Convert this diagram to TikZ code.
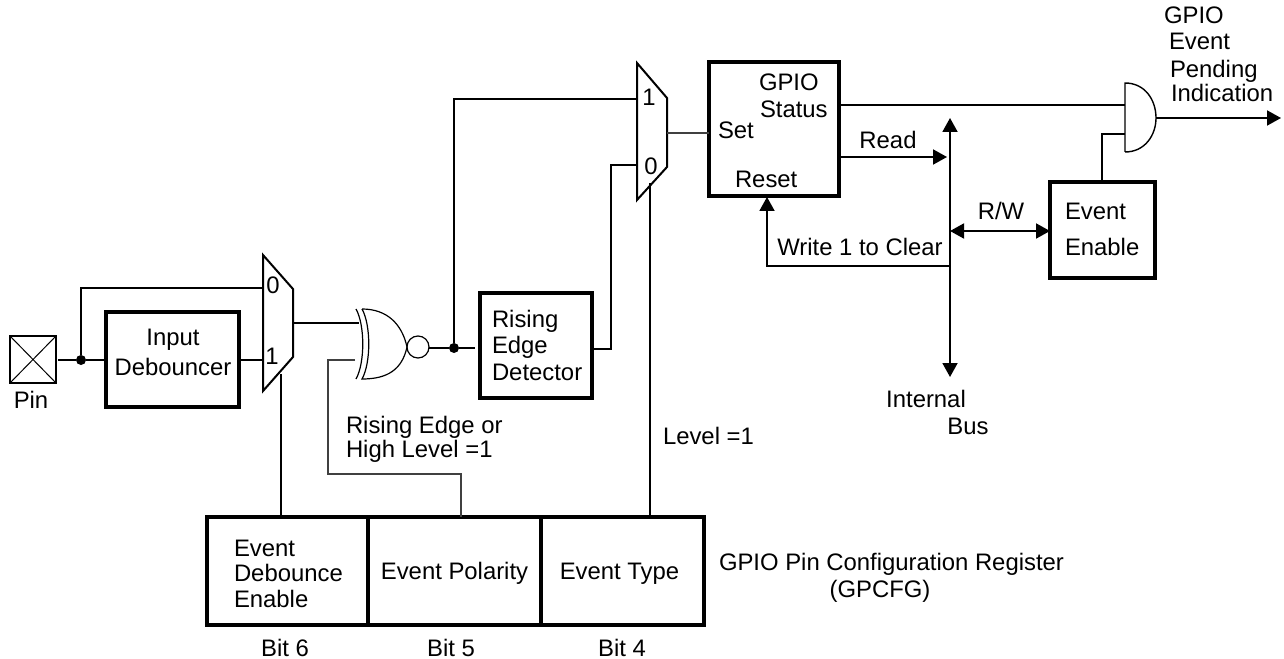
\documentclass[tikz,border=0pt]{standalone}
\usepackage{fontspec}
\setmainfont{Liberation Sans}
\usetikzlibrary{arrows.meta}
\newcommand{\lbl}{\fontsize{17.9pt}{24pt}\selectfont}
\tikzset{
  wire/.style={line width=1.9pt*0.75},
  thinwire/.style={line width=1.5pt*0.75,black!75},
  box/.style={draw,line width=3.4pt*0.75,inner sep=0,outer sep=0,align=center,font=\lbl},
  muxshape/.style={line width=2pt*0.75,line join=miter},
  lab/.style={inner sep=0,outer sep=0,anchor=base west,font=\lbl},
  labc/.style={inner sep=0,outer sep=0,anchor=base,font=\lbl},
  dot/.style={circle,fill=black,inner sep=0,minimum size=10pt*0.75},
  arr/.style={-{Triangle[length=14pt*0.75,width=15pt*0.75]}},
  darr/.style={{Triangle[length=14pt*0.75,width=15pt*0.75]}-{Triangle[length=14pt*0.75,width=15pt*0.75]}},
}
\begin{document}
\begin{tikzpicture}[x=0.75pt,y=-0.75pt]
\useasboundingbox (0,0) rectangle (1284,659);
% pin
\node[draw,line width=1.7pt*0.75,minimum width=46*0.75pt,minimum height=47*0.75pt,inner sep=0,outer sep=0] (pin) at (33,359.5) {};
\draw[line width=1pt*0.75] (pin.north west) -- (pin.south east) (pin.north east) -- (pin.south west);
\node[labc] (pinlab) at (31,408) {Pin};
% boxes
\node[box,minimum width=133*0.75pt,minimum height=95*0.75pt] (deb) at (172.5,359.5) {};
\node[labc] (debl1) at (173,345) {Input};
\node[labc] (debl2) at (173,375) {Debouncer};
\node[box,minimum width=112*0.75pt,minimum height=105*0.75pt] (edge) at (536,345.5) {};
\node[lab] (edl1) at (492,327) {Rising};
\node[lab] (edl2) at (492,353) {Edge};
\node[lab] (edl3) at (492,380) {Detector};
\node[box,minimum width=130*0.75pt,minimum height=134*0.75pt] (status) at (774,129) {};
\node[lab] (st1) at (759,91) {GPIO};
\node[lab] (st2) at (760,118) {Status};
\node[lab] (st3) at (718,139) {Set};
\node[lab] (st4) at (735,188) {Reset};
\node[box,minimum width=105*0.75pt,minimum height=96*0.75pt] (enable) at (1102.5,230) {};
\node[lab] (en1) at (1065,220) {Event};
\node[lab] (en2) at (1065,256) {Enable};
% register
\node[box,minimum width=161*0.75pt,minimum height=108*0.75pt] (r6) at (287.5,571) {};
\node[box,minimum width=173*0.75pt,minimum height=108*0.75pt] (r5) at (454.5,571) {};
\node[box,minimum width=163*0.75pt,minimum height=108*0.75pt] (r4) at (622.5,571) {};
\node[lab] (r6a) at (234,556) {Event};
\node[lab] (r6b) at (234,581) {Debounce};
\node[lab] (r6c) at (234,607) {Enable};
\node[labc] (r5a) at (454.5,579) {Event Polarity};
\node[labc] (r4a) at (619.5,579) {Event Type};
\node[labc] (b6) at (285,656) {Bit 6};
\node[labc] (b5) at (451,656) {Bit 5};
\node[labc] (b4) at (622,656) {Bit 4};
\node[lab] (reg1) at (719,570) {GPIO Pin Configuration Register};
\node[labc] (reg2) at (880,597) {(GPCFG)};
% muxes
\draw[muxshape] (263,255) -- (293,289) -- (293,357) -- (263,391) -- cycle;
\node[labc] (m10) at (273,293) {0};
\node[labc] (m11) at (272,364) {1};
\draw[muxshape] (637,63) -- (667,98) -- (667,167) -- (637,200) -- cycle;
\node[labc] (m21) at (649,106) {1};
\node[labc] (m20) at (651,175) {0};
% xnor
\draw[line width=1.2pt*0.75] (356,309) .. controls (365,325) and (365,363) .. (356,379);
\draw[line width=1.2pt*0.75] (362,309) .. controls (371,325) and (371,363) .. (362,379)
   .. controls (387,379) and (402,370) .. (407,347) .. controls (402,324) and (387,309) .. (362,309);
\node[draw,circle,line width=1.2pt*0.75,minimum size=22*0.75pt,inner sep=0,outer sep=0] (bub) at (418,347) {};
% and
\draw[line width=1.4pt*0.75] (1125,152) -- (1125,83) .. controls (1145,83) and (1156,100) .. (1156,118) .. controls (1156,135) and (1145,152) .. (1125,152);
% coordinates
\coordinate (pinout) at (58,360);
\node[dot] (d1) at (81,360) {};
\node[dot] (d2) at (454,348) {};
\coordinate (debin) at (deb.west |- d1);
\coordinate (c0) at (263,288);
\coordinate (c1) at (263,360);
\coordinate (mo1) at (293,323);
\coordinate (xa) at (359,323);
\coordinate (xb) at (355,360);
\coordinate (edin) at (475,348);
\coordinate (mi1) at (637,99);
\coordinate (mi0) at (637,165);
\coordinate (mo2) at (667,133);
\coordinate (stin) at (709,133);
\coordinate (stout) at (839,105);
\coordinate (andin1) at (1125,105);
\coordinate (andin2) at (1125,134);
\coordinate (andout) at (1156,118);
\coordinate (pend) at (1281,118);
\coordinate (readst) at (839,157);
\coordinate (readend) at (947,157);
\coordinate (bust) at (950,118);
\coordinate (busb) at (950,377);
\coordinate (rw) at (950,231);
\coordinate (wr) at (950,266);
% wires
\draw[wire] (pinout) -- (d1) -- (debin);
\draw[wire] (d1) |- (c0);
\draw[wire] (deb.east |- c1) -- (c1);
\draw[wire] (mo1) -- (xa);
\draw[thinwire] (xb) -- (328,360) -- (328,474) -- (461,474) -- (461,517);
\draw[wire] (bub.east |- d2) -- (d2) -- (edin);
\draw[wire] (d2) |- (mi1);
\draw[wire] (edge.east |- 0,349) -- (611,349) |- (mi0);
\draw[thinwire] (mo2) -- (stin);
\draw[wire] (281,374) -- (281,517);
\draw[wire] (650,183) -- (650,517);
\draw[wire] (stout) -- (andin1);
\draw[wire] (enable.north -| 1102,0) -- (1102,134) -- (andin2);
\draw[wire,arr] (andout) -- (pend);
\draw[wire,arr] (readst) -- (readend);
\draw[wire,darr] (busb) -- (bust);
\draw[wire,darr] (rw) -- (enable.west |- rw);
\draw[wire,arr] (wr) -- (767,266) -- (767,197);
% labels
\node[labc] (rd) at (888,149) {Read};
\node[labc] (rwl) at (1001,220) {R/W};
\node[labc] (wl) at (860,256) {Write 1 to Clear};
\node[labc] (ib1) at (926,407) {Internal};
\node[labc] (ib2) at (968,434) {Bus};
\node[lab] (rl1) at (346,433) {Rising Edge or};
\node[lab] (rl2) at (346,457) {High Level =1};
\node[lab] (ll) at (663,444) {Level =1};
\node[lab] (g1) at (1164,24) {GPIO};
\node[lab] (g2) at (1169,50) {Event};
\node[lab] (g3) at (1170,78) {Pending};
\node[lab] (g4) at (1171,102) {Indication};
\end{tikzpicture}
\end{document}
